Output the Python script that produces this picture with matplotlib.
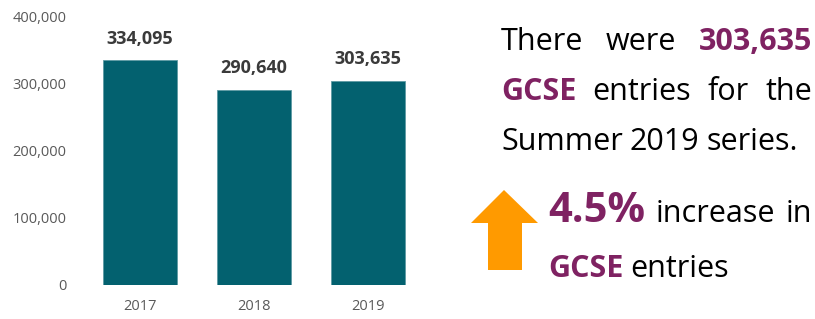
import numpy as np
import matplotlib
matplotlib.use("Agg")
import matplotlib.pyplot as plt
from matplotlib.patches import Polygon

plt.rcParams['font.family'] = ['Open Sans', 'DejaVu Sans']

years = ['2017', '2018', '2019']
entries = [334095, 290640, 303635]
yticks = [0, 100000, 200000, 300000, 400000]

bar_col = '#03616f'
purple = '#7f2262'
orange = '#ff9a00'
W, H = 815, 319

fig = plt.figure(figsize=(W / 100, H / 100), dpi=100)
ax = fig.add_axes([83 / W, 34 / H, 342 / W, 269 / H])

x = np.arange(len(years))
bars = ax.bar(x, entries, width=0.65, color=bar_col, edgecolor='#5e9aa3', linewidth=0.6)
for xi, v in zip(x, entries):
    ax.annotate(f'{v:,}', (xi, v), xytext=(0, 12), textcoords='offset points',
                ha='center', va='baseline', fontsize=13, fontweight='bold', color='#3a3a3a')

ax.set_xlim(-0.5, 2.5)
ax.set_ylim(0, 400000)
ax.set_xticks(x)
ax.set_xticklabels(years)
ax.set_yticks(yticks)
ax.set_yticklabels([f'{t:,}' for t in yticks])
ax.tick_params(axis='both', length=0, labelsize=10.5, labelcolor='#595959')
ax.tick_params(axis='y', pad=12)
ax.tick_params(axis='x', pad=10)
for s in ax.spines.values():
    s.set_visible(False)


def fx(px):
    return px / W


def fy(py):
    return (H - py) / H


renderer = fig.canvas.get_renderer()


def justify(words, x0, x1, y):
    # words: list of (text, size, weight, colour)
    objs = []
    for t, size, weight, col in words:
        objs.append(fig.text(fx(x0), fy(y), t, fontsize=size, fontweight=weight,
                             color=col, va='baseline', ha='left'))
    widths = [o.get_window_extent(renderer).width for o in objs]
    gap = (x1 - x0 - sum(widths)) / (len(objs) - 1)
    pos = x0
    for o, w in zip(objs, widths):
        o.set_x(fx(pos))
        pos += w + gap


def left_line(words, x0, y, space=8):
    pos = x0
    for t, size, weight, col in words:
        o = fig.text(fx(pos), fy(y), t, fontsize=size, fontweight=weight,
                     color=col, va='baseline', ha='left')
        pos += o.get_window_extent(renderer).width + space


fs = 22
justify([('There', fs, 'normal', 'black'), ('were', fs, 'normal', 'black'),
         ('303,635', fs, 'bold', purple)], 501, 812, 50)
justify([('GCSE', fs, 'bold', purple), ('entries', fs, 'normal', 'black'),
         ('for', fs, 'normal', 'black'), ('the', fs, 'normal', 'black')], 501, 812, 100)
left_line([('Summer', fs, 'normal', 'black'), ('2019', fs, 'normal', 'black'),
           ('series.', fs, 'normal', 'black')], 501, 150, space=7)
justify([('4.5%', 30, 'bold', purple), ('increase', fs, 'normal', 'black'),
         ('in', fs, 'normal', 'black')], 548, 812, 222)
left_line([('GCSE', fs, 'bold', purple), ('entries', fs, 'normal', 'black')], 548, 277, space=7)

arrow_px = [(471, 223), (504, 190), (538, 223), (522, 223), (522, 270), (488, 270), (488, 223)]
fig.patches.append(Polygon([(fx(a), fy(b)) for a, b in arrow_px], closed=True,
                           transform=fig.transFigure, facecolor=orange, edgecolor='none'))

fig.savefig('out.png', dpi=100)
